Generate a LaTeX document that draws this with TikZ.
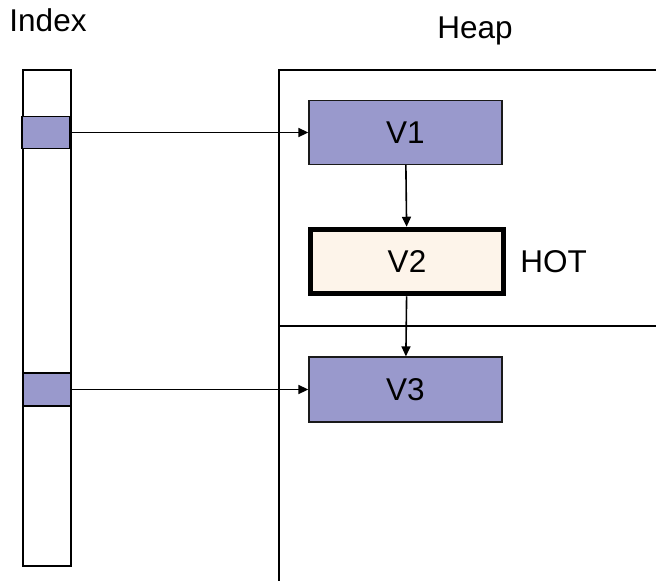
\documentclass[tikz,border=0pt]{standalone}
\usepackage{fontspec}
\setmainfont{Liberation Sans}
\usetikzlibrary{arrows.meta,positioning}
\definecolor{ink}{HTML}{000000}
\definecolor{slot}{HTML}{9999CC}
\definecolor{hotfill}{HTML}{FDF4EA}
\definecolor{edge}{HTML}{1A1A1A}
\tikzset{
  label text/.style={font=\fontsize{31.5}{38}\selectfont,inner sep=0pt},
  column/.style={draw=ink,line width=1.6pt,fill=white,inner sep=0pt,minimum width=48pt},
  entry/.style={draw=ink,line width=1.6pt,fill=slot,inner sep=0pt,minimum width=48pt,minimum height=32pt},
  version/.style={draw=edge,line width=1.3pt,fill=slot,inner sep=0pt,minimum width=193pt,minimum height=64pt,font=\fontsize{31.5}{38}\selectfont},
  hotversion/.style={version,draw=ink,line width=5.5pt,fill=hotfill},
  ptr/.style={-{Triangle[length=10pt,width=9pt]},line width=1.6pt,draw=ink}
}
\begin{document}
\begin{tikzpicture}[x=1pt,y=-1pt]
  \useasboundingbox (0,0) rectangle (656,581);
  % index column with its two entries
  \node[label text] (idxlbl) at (48,20) {Index};
  \node[column,minimum height=496pt] (idx) at (47,318) {};
  \node[entry] (slot1) at (46,132.5) {};
  \node[entry,minimum height=33pt] (slot2) at (47,389.5) {};
  % heap pages
  \node[label text] (heaplbl) at (475,31) {Heap};
  \draw[line width=1.6pt,draw=ink] (279,581) -- (279,70) -- (656,70);
  \draw[line width=1.6pt,draw=ink] (279,326) -- (656,326);
  % version chain
  \node[version] (v1) at (405.5,132.5) {V1};
  \node[hotversion] (v2) at (407,261.5) {V2};
  \node[version,minimum height=65pt] (v3) at (405.5,389.5) {V3};
  \node[label text,right=14pt of v2] (hot) {HOT};
  \draw[ptr] (slot1) -- (v1);
  \draw[ptr] (slot2) -- (v3);
  \draw[ptr] (v1) -- (v2);
  \draw[ptr] (v2) -- (v3);
\end{tikzpicture}
\end{document}
